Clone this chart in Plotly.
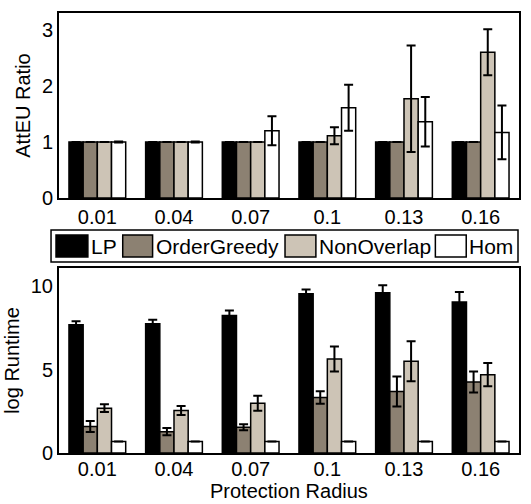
import plotly.graph_objects as go

categories = ["0.01", "0.04", "0.07", "0.1", "0.13", "0.16"]
series_names = ["LP", "OrderGreedy", "NonOverlap", "Hom"]
colors = ["#000000", "#8c8172", "#cdc4b6", "#ffffff"]

# Top panel: AttEU Ratio
att_lp = [1, 1, 1, 1, 1, 1]
att_og = [1, 1, 1, 1, 1, 1]
att_no = [1, 1, 1, 1.11, 1.77, 2.6]
att_hom = [1, 1, 1.2, 1.61, 1.36, 1.17]
att_lp_err = [0, 0, 0, 0, 0, 0]
att_og_err = [0, 0, 0, 0, 0, 0]
att_no_err = [0, 0, 0, 0.15, 0.95, 0.41]
att_hom_err = [0.01, 0.01, 0.26, 0.41, 0.44, 0.48]

# Bottom panel: log Runtime
rt_lp = [7.7, 7.75, 8.25, 9.56, 9.62, 9.06]
rt_og = [1.59, 1.28, 1.55, 3.33, 3.69, 4.26]
rt_no = [2.69, 2.55, 2.99, 5.64, 5.5, 4.7]
rt_hom = [0.69, 0.69, 0.69, 0.69, 0.69, 0.69]
rt_lp_err = [0.2, 0.25, 0.3, 0.25, 0.45, 0.6]
rt_og_err = [0.33, 0.22, 0.18, 0.37, 0.9, 0.63]
rt_no_err = [0.23, 0.27, 0.45, 0.75, 1.2, 0.7]
rt_hom_err = [0, 0, 0, 0, 0, 0]

top_vals = [att_lp, att_og, att_no, att_hom]
top_errs = [att_lp_err, att_og_err, att_no_err, att_hom_err]
bot_vals = [rt_lp, rt_og, rt_no, rt_hom]
bot_errs = [rt_lp_err, rt_og_err, rt_no_err, rt_hom_err]

FONT = "Liberation Sans, Arial, Helvetica, sans-serif"

fig = go.Figure()
for i, name in enumerate(series_names):
    fig.add_trace(go.Bar(
        x=categories, y=top_vals[i], name=name, xaxis="x", yaxis="y",
        marker=dict(color=colors[i], line=dict(color="black", width=1.5)),
        error_y=dict(type="data", array=top_errs[i], visible=True,
                     color="black", thickness=2, width=4.5),
        showlegend=False))
for i, name in enumerate(series_names):
    fig.add_trace(go.Bar(
        x=categories, y=bot_vals[i], name=name, xaxis="x2", yaxis="y2",
        marker=dict(color=colors[i], line=dict(color="black", width=1.5)),
        error_y=dict(type="data", array=bot_errs[i], visible=True,
                     color="black", thickness=2, width=4.5),
        showlegend=False))

# Plot-area geometry (px) -> paper coords
L, R, T, B, W, H = 59, 10, 13, 51, 531, 504
pw = W - L - R
ph = H - T - B
def px(x):
    return (x - L) / pw
def py(y):
    return (H - B - y) / ph

axis_common = dict(showline=True, linecolor="black", linewidth=2, mirror=True,
                   ticks="", showgrid=False, zeroline=False,
                   tickfont=dict(family=FONT, size=20, color="black"))

fig.update_layout(
    width=W, height=H,
    margin=dict(l=L, r=R, t=T, b=B),
    paper_bgcolor="white", plot_bgcolor="white",
    barmode="group", bargap=0.26, bargroupgap=0,
    font=dict(family=FONT, size=20, color="black"),
    xaxis=dict(domain=[0, 1], anchor="y", **axis_common),
    yaxis=dict(domain=[py(198), 1], anchor="x", range=[0, 3.3],
               tickvals=[0, 1, 2, 3],
               title=dict(text="AttEU Ratio", font=dict(family=FONT, size=20), standoff=6),
               **axis_common),
    xaxis2=dict(domain=[0, 1], anchor="y2", ticklabelstandoff=-3, **axis_common),
    yaxis2=dict(domain=[0, py(268)], anchor="x2", range=[0, 11.1],
                tickvals=[0, 5, 10],
                title=dict(text="log Runtime", font=dict(family=FONT, size=20), standoff=6),
                **axis_common),
)

# Custom legend (box, swatches, labels)
shapes = [dict(type="rect", xref="paper", yref="paper",
               x0=px(51), x1=px(520), y0=py(262), y1=py(230),
               line=dict(color="black", width=1.5), fillcolor="white")]
sw_x = [(56, 88), (123, 153), (286, 317), (437, 468)]
txt_x = [89, 154, 318, 469]
annotations = []
for i, name in enumerate(series_names):
    shapes.append(dict(type="rect", xref="paper", yref="paper",
                       x0=px(sw_x[i][0]), x1=px(sw_x[i][1]),
                       y0=py(257), y1=py(235),
                       line=dict(color="black", width=1.5), fillcolor=colors[i]))
    annotations.append(dict(xref="paper", yref="paper", x=px(txt_x[i]), y=py(246),
                            text=name, showarrow=False, xanchor="left", yanchor="middle",
                            font=dict(family=FONT, size=21, color="black")))
# x-axis title of the lower panel
annotations.append(dict(xref="paper", yref="paper", x=0.5, y=py(503),
                        text="Protection Radius", showarrow=False,
                        xanchor="center", yanchor="bottom", borderpad=0,
                        font=dict(family=FONT, size=20, color="black")))
fig.update_layout(shapes=shapes, annotations=annotations)

fig.write_html("out.html", config={"displayModeBar": False},
               post_script="document.body.style.margin='0';document.body.style.padding='0';")
